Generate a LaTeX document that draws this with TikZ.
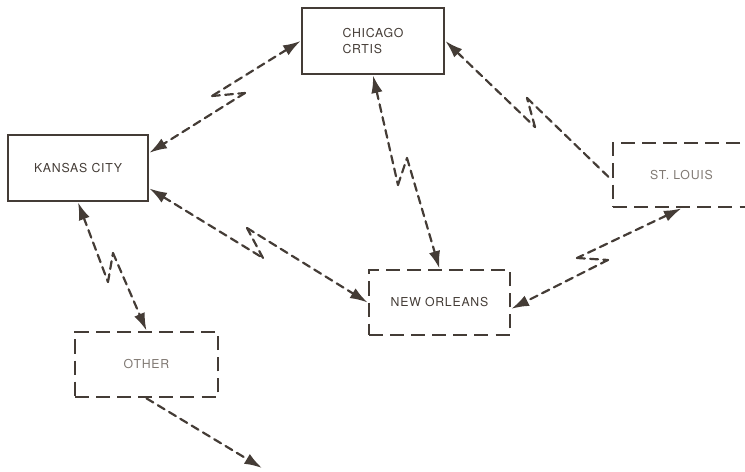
\documentclass[tikz,border=0pt]{standalone}
\usepackage{fontspec}
\setsansfont{TeX Gyre Heros}[LetterSpace=6]
\usetikzlibrary{arrows.meta}
\definecolor{ink}{RGB}{68,60,54}
\definecolor{faded}{RGB}{128,121,115}

\begin{document}
\begin{tikzpicture}[x=0.02cm,y=-0.02cm,>={Latex[length=10pt,width=6.5pt]},
      color=ink,line join=miter,
      site/.style={rectangle,draw,line width=1.6pt,inner sep=0pt,
        font=\sffamily\fontsize{7}{9.5}\selectfont},
      remote/.style={site,dash pattern=on 8pt off 4pt},
      link/.style={line width=1.25pt,dash pattern=on 4.5pt off 3pt,line cap=round}]
 \useasboundingbox (0,0) rectangle (745,472);

 \node[site, minimum width=2.84cm, minimum height=1.32cm, align=left] (CHI) at (373,41) {CHICAGO\\CRTIS};
 \node[site, minimum width=2.8cm, minimum height=1.32cm] (KC) at (78,168) {KANSAS CITY};
 \node[remote, minimum width=2.74cm, minimum height=1.28cm, text=faded] (STL) at (681.5,175) {ST. LOUIS};
 \node[remote, minimum width=2.82cm, minimum height=1.3cm] (NO) at (439.5,302.5) {NEW ORLEANS};
 \node[remote, minimum width=2.86cm, minimum height=1.3cm, text=faded] (OT) at (146.5,364.5) {OTHER};

 % kinks of the lightning links
 \coordinate (a1) at (212,96);  \coordinate (a2) at (245,93);
 \coordinate (b1) at (398,185); \coordinate (b2) at (407,158);
 \coordinate (c1) at (535,127); \coordinate (c2) at (527,98);
 \coordinate (d1) at (263,258); \coordinate (d2) at (247,228);
 \coordinate (e1) at (108,282); \coordinate (e2) at (113,253);
 \coordinate (f1) at (577,258); \coordinate (f2) at (608,260);
 \coordinate (out) at (262,468);

 \path[link]
  (CHI.west) edge[<-] (a1) (a1) edge (a2) (a2) edge[->] (KC.12)
  (CHI.south) edge[<-] (b1) (b1) edge (b2) (b2) edge[->] (NO.north)
  (CHI.east) edge[<-] (c1) (c1) edge (c2) (c2) edge (STL.184)
  (KC.344) edge[<-] (d1) (d1) edge (d2) (d2) edge[->] (NO.west)
  (KC.south) edge[<-] (e1) (e1) edge (e2) (e2) edge[->] (OT.north)
  (STL.south) edge[<-] (f1) (f1) edge (f2) (f2) edge[->] (NO.-5)
  (OT.south) edge[->] (out);
\end{tikzpicture}
\end{document}
